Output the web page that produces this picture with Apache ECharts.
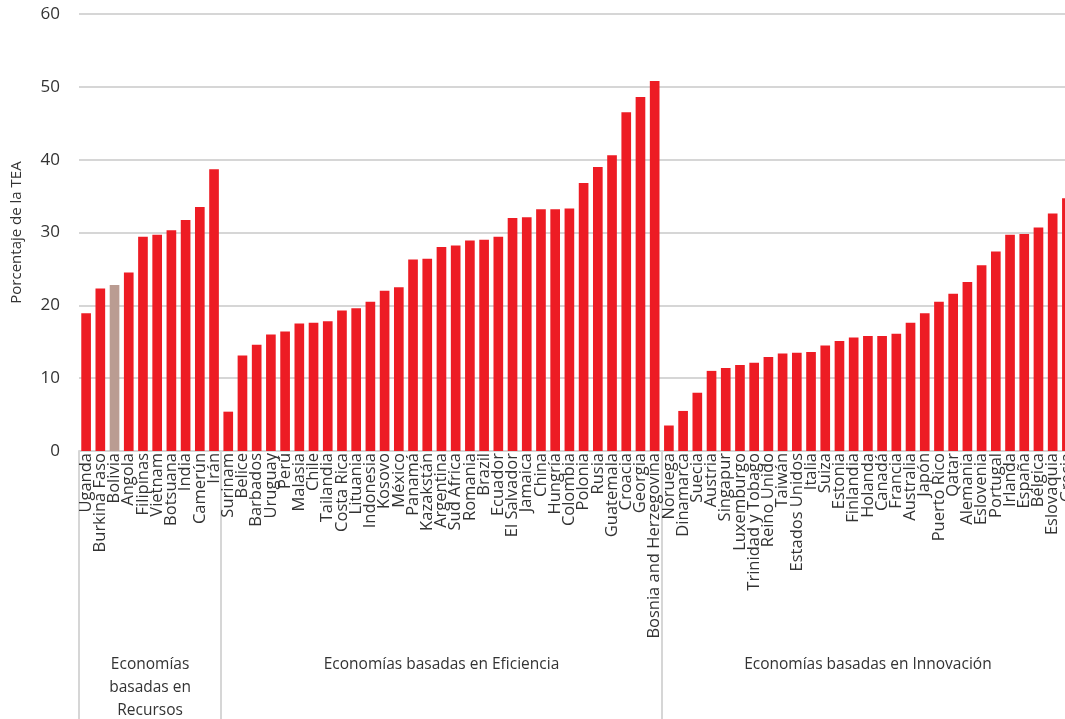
<!DOCTYPE html>
<html>
<head>
<meta charset="utf-8">
<script src="https://cdn.jsdelivr.net/npm/echarts@6/dist/echarts.min.js"></script>
<style>
  html, body { margin: 0; padding: 0; background: #fff; }
  #chart { width: 1065px; height: 719px; }
</style>
</head>
<body>
<div id="chart"></div>
<script>
// Economy groups and their countries, ordered by TEA share within each group
const groupNames = [
  'Economías\nbasadas en\nRecursos',
  'Economías basadas en Eficiencia',
  'Economías basadas en Innovación'
];

const recursosCountries = ['Uganda', 'Burkina Faso', 'Bolivia', 'Angola', 'Filipinas', 'Vietnam', 'Botsuana', 'India', 'Camerún', 'Irán'];
const recursosValues = [18.9, 22.3, 22.8, 24.5, 29.4, 29.7, 30.3, 31.7, 33.5, 38.7];

const eficienciaCountries = ['Surinam', 'Belice', 'Barbados', 'Uruguay', 'Perú', 'Malasia', 'Chile', 'Tailandia', 'Costa Rica', 'Lituania',
  'Indonesia', 'Kosovo', 'México', 'Panamá', 'Kazakstán', 'Argentina', 'Sud África', 'Romania', 'Brazil', 'Ecuador',
  'El Salvador', 'Jamaica', 'China', 'Hungría', 'Colombia', 'Polonia', 'Rusia', 'Guatemala', 'Croacia', 'Georgia',
  'Bosnia and Herzegovina'];
const eficienciaValues = [5.4, 13.1, 14.6, 16.0, 16.4, 17.5, 17.6, 17.8, 19.3, 19.6,
  20.5, 22.0, 22.5, 26.3, 26.4, 28.0, 28.2, 28.9, 29.0, 29.4,
  32.0, 32.1, 33.2, 33.2, 33.3, 36.8, 39.0, 40.6, 46.5, 48.6,
  50.8];

const innovacionCountries = ['Noruega', 'Dinamarca', 'Suecia', 'Austria', 'Singapur', 'Luxemburgo', 'Trinidad y Tobago', 'Reino Unido', 'Taiwán', 'Estados Unidos',
  'Italia', 'Suiza', 'Estonia', 'Finlandia', 'Holanda', 'Canadá', 'Francia', 'Australia', 'Japón', 'Puerto Rico',
  'Qatar', 'Alemania', 'Eslovenia', 'Portugal', 'Irlanda', 'España', 'Bélgica', 'Eslovaquia', 'Grecia'];
const innovacionValues = [3.5, 5.5, 8.0, 11.0, 11.4, 11.8, 12.1, 12.9, 13.4, 13.5,
  13.6, 14.5, 15.1, 15.6, 15.8, 15.8, 16.1, 17.6, 18.9, 20.5,
  21.6, 23.2, 25.5, 27.4, 29.7, 29.8, 30.7, 32.6, 34.7];

const yTicks = { min: 0, max: 60, interval: 10 };
const highlighted = 'Bolivia';

const RED = '#ED1C24';
const HIGHLIGHT = '#BA9C92';
const GRID_GREY = '#D6D6D6';
const TEXT = '#333333';
const FONT = 'Open Sans';

const groups = [
  { name: groupNames[0], countries: recursosCountries, values: recursosValues },
  { name: groupNames[1], countries: eficienciaCountries, values: eficienciaValues },
  { name: groupNames[2], countries: innovacionCountries, values: innovacionValues }
];

const categories = [];
const barData = [];
const boundaries = [];
const centers = [];
const centerLabel = {};
groups.forEach(g => {
  const start = categories.length;
  boundaries.push(start);
  g.countries.forEach((c, i) => {
    categories.push(c);
    barData.push({
      value: g.values[i],
      itemStyle: { color: c === highlighted ? HIGHLIGHT : RED }
    });
  });
  const mid = start + g.countries.length / 2;
  centers.push(mid);
  centerLabel[mid] = g.name;
});
const total = categories.length;

const chart = echarts.init(document.getElementById('chart'), null, { renderer: 'canvas' });
chart.setOption({
  backgroundColor: '#ffffff',
  animation: false,
  textStyle: { fontFamily: FONT },
  // the plot runs past the right edge of the page, so the last bar is cut
  grid: {
    left: 79, width: 995, top: 14, bottom: 268,
    containLabel: false,
    outerBoundsMode: 'none'
  },
  xAxis: [
    {
      type: 'category',
      data: categories,
      position: 'bottom',
      axisLine: { show: true, lineStyle: { color: GRID_GREY, width: 2 } },
      axisTick: { show: false },
      axisLabel: {
        interval: 0,
        rotate: 90,
        margin: 2,
        fontSize: 16.5,
        fontFamily: FONT,
        color: TEXT
      }
    },
    {
      // group brackets and group titles under the country labels
      type: 'value',
      min: 0,
      max: total,
      position: 'bottom',
      axisLine: { show: false },
      splitLine: { show: false },
      axisTick: {
        show: true,
        customValues: boundaries,
        length: 270,
        lineStyle: { color: GRID_GREY, width: 2 }
      },
      axisLabel: {
        show: true,
        customValues: centers,
        formatter: v => centerLabel[v] || '',
        margin: 202,
        fontSize: 15.5,
        lineHeight: 23,
        fontFamily: FONT,
        color: TEXT,
        align: 'center',
        verticalAlign: 'top'
      }
    }
  ],
  yAxis: {
    type: 'value',
    min: yTicks.min,
    max: yTicks.max,
    interval: yTicks.interval,
    name: 'Porcentaje de la TEA',
    nameLocation: 'middle',
    nameGap: 55,
    nameTextStyle: { fontSize: 15, color: TEXT, fontFamily: FONT },
    axisLine: { show: false },
    axisTick: { show: false },
    axisLabel: { fontSize: 17, color: TEXT, margin: 19, fontFamily: FONT },
    splitLine: { lineStyle: { color: GRID_GREY, width: 2 } }
  },
  series: [{
    type: 'bar',
    xAxisIndex: 0,
    data: barData,
    barCategoryGap: '32%'
  }]
});
</script>
</body>
</html>
